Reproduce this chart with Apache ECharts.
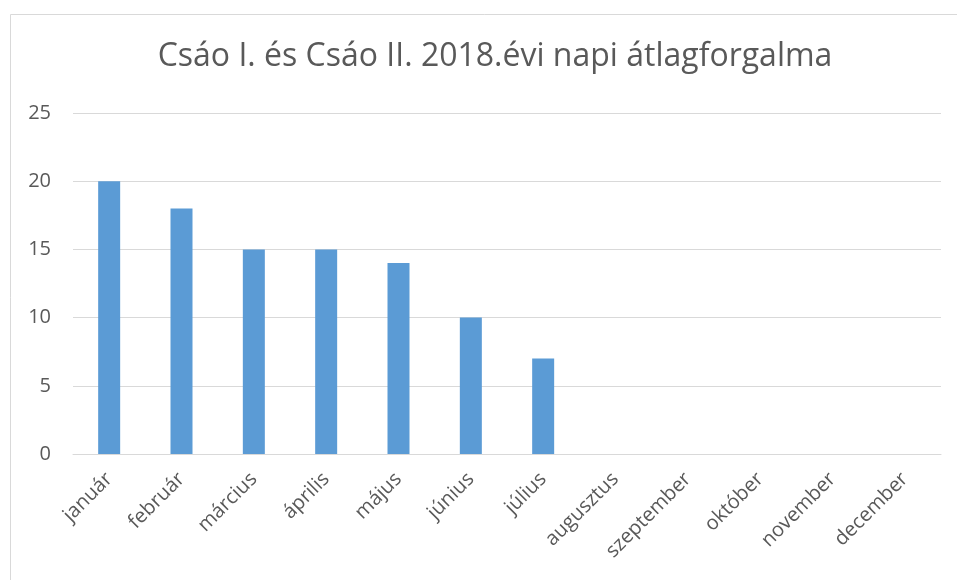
<!DOCTYPE html>
<html><head><meta charset="utf-8">
<script src="https://cdn.jsdelivr.net/npm/echarts@6/dist/echarts.min.js"></script>
<style>html,body{margin:0;padding:0;background:#fff}#c{width:957px;height:580px}</style>
</head><body><div id="c"></div>
<script>
const months = ['január','február','március','április','május','június','július','augusztus','szeptember','október','november','december'];
const values = [20,18,15,15,14,10,7,0,0,0,0,0];
const titleText = 'Csáo I. és Csáo II. 2018.évi napi átlagforgalma';
const yTicks = {min:0,max:25,interval:5};
const font = '"Open Sans", sans-serif';
const chart = echarts.init(document.getElementById('c'),null,{renderer:'canvas'});
chart.setOption({
  animation:false,
  graphic:[{type:'rect',shape:{x:10.5,y:14.5,width:980,height:700},style:{fill:'none',stroke:'#d9d9d9',lineWidth:1},z:-1}],
  title:{text:titleText,left:490,textAlign:'center',top:36,textStyle:{fontFamily:font,fontSize:32,fontWeight:'normal',color:'#595959'}},
  grid:{left:73,right:16,top:113,bottom:126,containLabel:false},
  xAxis:{type:'category',data:months,axisTick:{show:false},axisLine:{lineStyle:{color:'#d9d9d9',width:1}},
    axisLabel:{rotate:45,interval:0,fontFamily:font,fontSize:20,color:'#595959',margin:22}},
  yAxis:{type:'value',min:yTicks.min,max:yTicks.max,interval:yTicks.interval,axisLine:{show:false},axisTick:{show:false},
    splitLine:{lineStyle:{color:'#d9d9d9',width:1}},axisLabel:{fontFamily:font,fontSize:20,color:'#595959',margin:22}},
  series:[{type:'bar',data:values,barWidth:22,itemStyle:{color:'#5b9bd5'}}]
});
</script></body></html>
